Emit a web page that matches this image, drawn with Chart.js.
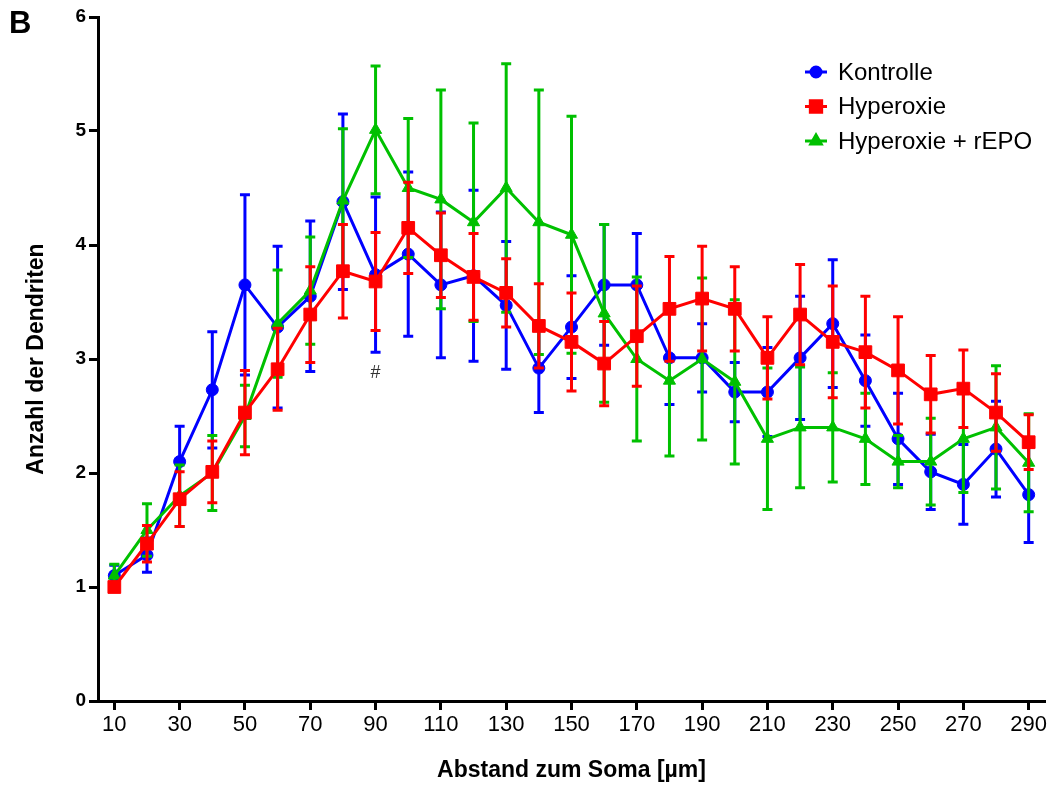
<!DOCTYPE html>
<html>
<head>
<meta charset="utf-8">
<title>Anzahl der Dendriten</title>
<script src="https://cdn.jsdelivr.net/npm/chart.js@4.4.1/dist/chart.umd.min.js"></script>
<style>
  html, body { margin: 0; padding: 0; background: #fff; }
  #chartWrap { width: 1055px; height: 788px; }
</style>
</head>
<body>
<div id="chartWrap"><canvas id="dendChart" width="1055" height="788"></canvas></div>
<script>
// distance from soma (µm) and tick positions
var distances = [10, 20, 30, 40, 50, 60, 70, 80, 90, 100, 110, 120, 130, 140, 150,
                 160, 170, 180, 190, 200, 210, 220, 230, 240, 250, 260, 270, 280, 290];
var xTicks = [10, 30, 50, 70, 90, 110, 130, 150, 170, 190, 210, 230, 250, 270, 290];
var yTicks = [0, 1, 2, 3, 4, 5, 6];

// mean number of dendrites per group
var kontrolle = [1.10, 1.28, 2.10, 2.73, 3.65, 3.28, 3.55, 4.38, 3.74, 3.92, 3.65, 3.73, 3.47, 2.92, 3.28,
                 3.65, 3.65, 3.01, 3.01, 2.71, 2.71, 3.01, 3.31, 2.81, 2.30, 2.01, 1.90, 2.21, 1.81];
var hyperoxie = [1.00, 1.38, 1.77, 2.01, 2.53, 2.91, 3.39, 3.77, 3.68, 4.15, 3.91, 3.72, 3.58, 3.29, 3.15,
                 2.96, 3.20, 3.44, 3.53, 3.44, 3.01, 3.39, 3.15, 3.06, 2.90, 2.69, 2.74, 2.53, 2.27];
var hyperoxieEpo = [1.10, 1.50, 1.80, 2.00, 2.50, 3.31, 3.60, 4.39, 5.01, 4.50, 4.40, 4.20, 4.50, 4.20, 4.09,
                    3.40, 3.00, 2.81, 3.00, 2.80, 2.30, 2.40, 2.40, 2.30, 2.10, 2.10, 2.30, 2.40, 2.09];

// SEM for the error bars
var kontrolleSem = [0.09, 0.15, 0.31, 0.51, 0.79, 0.71, 0.66, 0.77, 0.68, 0.72, 0.64, 0.75, 0.56, 0.39, 0.45,
                    0.53, 0.45, 0.41, 0.30, 0.26, 0.39, 0.54, 0.56, 0.40, 0.40, 0.33, 0.35, 0.42, 0.42];
var hyperoxieSem = [0.04, 0.16, 0.24, 0.27, 0.37, 0.36, 0.42, 0.41, 0.43, 0.40, 0.37, 0.38, 0.30, 0.37, 0.43,
                    0.37, 0.44, 0.46, 0.46, 0.37, 0.36, 0.44, 0.49, 0.49, 0.47, 0.34, 0.34, 0.34, 0.24];
var hyperoxieEpoSem = [0.10, 0.23, 0.27, 0.33, 0.27, 0.47, 0.47, 0.63, 0.56, 0.61, 0.96, 0.87, 1.09, 1.16, 1.04,
                       0.78, 0.72, 0.66, 0.71, 0.72, 0.62, 0.53, 0.48, 0.40, 0.23, 0.38, 0.47, 0.54, 0.43];

var groupNames = ['Kontrolle', 'Hyperoxie', 'Hyperoxie + rEPO'];

// significance mark under the control group at 90 µm
var markX = 90;
var markY = 2.88;
var markText = '#';

var narrow = "'Liberation Sans Narrow', 'Arial Narrow', 'Liberation Sans', Arial, sans-serif";
var arial = "'Liberation Sans', Arial, sans-serif";

function toPoints(ys) {
    return distances.map(function (d, i) { return { x: d, y: ys[i] }; });
}

function makeSet(label, ys, sem, color, style, radius, order) {
    return {
        label: label,
        data: toPoints(ys),
        sem: sem,
        borderColor: color,
        backgroundColor: color,
        pointBackgroundColor: color,
        pointBorderColor: color,
        borderWidth: 3,
        pointStyle: style,
        pointRadius: radius,
        pointHoverRadius: radius,
        pointBorderWidth: 1,
        tension: 0,
        order: order
    };
}

// vertical SEM bars with caps, drawn just under each dataset's line
var errorBars = {
    id: 'errorBars',
    beforeDatasetDraw: function (chart, args) {
        var ds = chart.data.datasets[args.index];
        if (!ds.sem) return;
        var yScale = chart.scales.y;
        var ctx = chart.ctx;
        ctx.save();
        ctx.strokeStyle = ds.borderColor;
        ctx.lineWidth = 3;
        args.meta.data.forEach(function (pt, j) {
            var v = ds.data[j].y;
            var top = yScale.getPixelForValue(v + ds.sem[j]);
            var bot = yScale.getPixelForValue(v - ds.sem[j]);
            ctx.beginPath();
            ctx.moveTo(pt.x, top);
            ctx.lineTo(pt.x, bot);
            ctx.moveTo(pt.x - 5, top);
            ctx.lineTo(pt.x + 5, top);
            ctx.moveTo(pt.x - 5, bot);
            ctx.lineTo(pt.x + 5, bot);
            ctx.stroke();
        });
        ctx.restore();
    }
};

// panel letter, legend box and the # mark
var extras = {
    id: 'extras',
    afterDraw: function (chart) {
        var ctx = chart.ctx;
        ctx.save();
        ctx.fillStyle = '#000';
        ctx.font = 'bold 31px ' + arial;
        ctx.textBaseline = 'alphabetic';
        ctx.fillText('B', 9, 33);

        ctx.fillStyle = '#333';
        ctx.font = '18px ' + arial;
        ctx.textAlign = 'center';
        ctx.textBaseline = 'middle';
        ctx.fillText(markText, chart.scales.x.getPixelForValue(markX), chart.scales.y.getPixelForValue(markY));

        // legend
        var lx = 805, ly = 72, gap = 34.5;
        ctx.textAlign = 'left';
        ctx.font = '24px ' + arial;
        chart.data.datasets.forEach(function (ds, i) {
            var y = ly + i * gap;
            ctx.strokeStyle = ds.borderColor;
            ctx.lineWidth = 3;
            ctx.beginPath();
            ctx.moveTo(lx, y);
            ctx.lineTo(lx + 22, y);
            ctx.stroke();
            ctx.fillStyle = ds.borderColor;
            Chart.helpers.drawPoint(ctx, {
                pointStyle: ds.pointStyle,
                radius: ds.pointRadius - 1,
                rotation: 0,
                borderWidth: 1
            }, lx + 11, y);
            ctx.fillStyle = '#000';
            ctx.fillText(ds.label, lx + 33, y + 1);
        });
        ctx.restore();
    }
};

var ctx = document.getElementById('dendChart');
var myChart = new Chart(ctx, {
    type: 'line',
    data: {
        datasets: [
            makeSet(groupNames[0], kontrolle, kontrolleSem, '#0000FF', 'circle', 6, 2),
            makeSet(groupNames[1], hyperoxie, hyperoxieSem, '#FF0000', 'rect', 9, 0),
            makeSet(groupNames[2], hyperoxieEpo, hyperoxieEpoSem, '#00C000', 'triangle', 7, 1)
        ]
    },
    options: {
        responsive: false,
        animation: false,
        devicePixelRatio: 1,
        layout: { padding: { top: 17, right: 7, left: 0, bottom: 0 } },
        plugins: {
            legend: { display: false },
            tooltip: { enabled: false },
            title: { display: false }
        },
        scales: {
            x: {
                type: 'linear',
                min: 5,
                max: 295,
                afterBuildTicks: function (scale) {
                    scale.ticks = xTicks.map(function (v) { return { value: v }; });
                },
                afterFit: function (scale) { scale.height = 87; },
                border: { display: true, color: '#000', width: 3 },
                grid: { drawOnChartArea: false, drawTicks: true, tickLength: 9, tickWidth: 3, color: '#000' },
                ticks: { color: '#000', padding: 2, maxRotation: 0, autoSkip: false, font: { family: narrow, size: 22 } },
                title: {
                    display: true,
                    text: 'Abstand zum Soma [µm]',
                    color: '#000',
                    font: { family: narrow, size: 23, weight: 'bold' },
                    padding: { top: 0, bottom: 4 }
                }
            },
            y: {
                type: 'linear',
                min: 0,
                max: 6,
                afterBuildTicks: function (scale) {
                    scale.ticks = yTicks.map(function (v) { return { value: v }; });
                },
                afterFit: function (scale) { scale.width = 98; },
                border: { display: true, color: '#000', width: 3 },
                grid: { drawOnChartArea: false, drawTicks: true, tickLength: 9, tickWidth: 3, color: '#000' },
                ticks: { color: '#000', padding: 3, font: { family: arial, size: 19, weight: 'bold' } },
                title: {
                    display: true,
                    text: 'Anzahl der Dendriten',
                    color: '#000',
                    font: { family: narrow, size: 23, weight: 'bold' },
                    padding: { top: 23, bottom: 0 }
                }
            }
        }
    },
    plugins: [errorBars, extras]
});
</script>
</body>
</html>
